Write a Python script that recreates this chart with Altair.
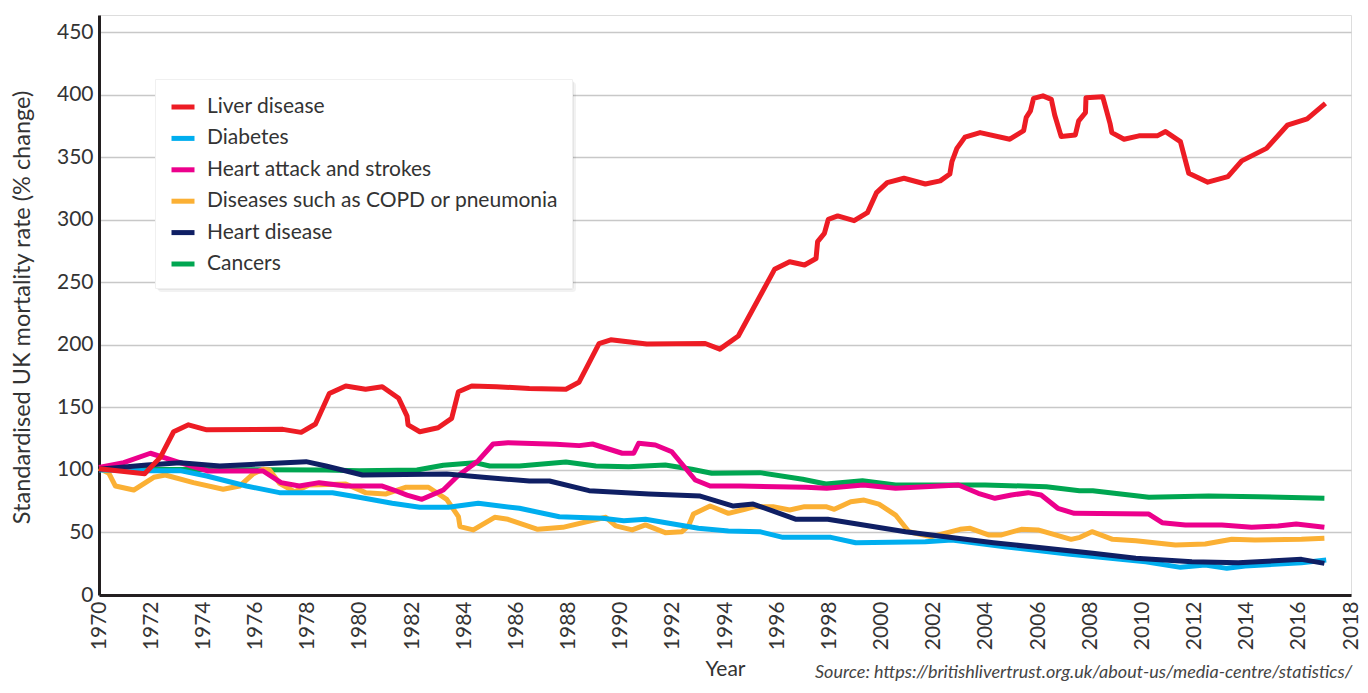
import altair as alt
import pandas as pd

# ---------------- data ----------------
liver_years = [1970, 1971.75, 1972.35, 1972.86, 1973.43, 1974.13, 1977.05, 1977.75, 1978.3, 1978.83,
               1979.46, 1980.22, 1980.86, 1981.49, 1981.81, 1981.85, 1982.3, 1983.0, 1983.52, 1983.78,
               1984.29, 1985.24, 1986.5, 1987.9, 1988.4, 1989.17, 1989.62, 1991.0, 1993.24, 1993.8,
               1994.51, 1995.9, 1996.48, 1997.05, 1997.49, 1997.55, 1997.81, 1997.96, 1998.32, 1998.95,
               1999.46, 1999.81, 2000.22, 2000.86, 2001.68, 2002.25, 2002.62, 2002.70, 2002.89, 2003.2,
               2003.78, 2004.92, 2005.45, 2005.55, 2005.71, 2005.83, 2006.19, 2006.51, 2006.64, 2006.89,
               2007.43, 2007.56, 2007.82, 2007.84, 2008.48, 2008.76, 2008.83, 2009.3, 2009.87, 2010.57,
               2010.89, 2011.46, 2011.78, 2012.51, 2013.28, 2013.81, 2014.76, 2015.56, 2016.32, 2017.02]
liver_values = [101, 97, 110, 130.5, 136, 132, 132.4, 130, 136.7, 161,
                167, 164.5, 166.5, 157.2, 143, 136, 130.5, 133.7, 141.2, 162.5,
                167, 166.5, 165, 164.4, 170, 201, 204, 200.6, 201, 196.5,
                207, 260.3, 266.4, 263.8, 269, 282.4, 289, 300.3, 303, 299.2,
                305.6, 321.6, 329.6, 333.1, 328.5, 331, 336.5, 346.4, 357, 366,
                369.6, 364.3, 371.2, 381.8, 387, 397, 399, 396.2, 383.7, 366.4,
                367.7, 379, 385.5, 397.5, 398.3, 377, 369.6, 364.3, 367, 367,
                370.4, 362.4, 337.1, 330, 334.4, 347, 357, 375.5, 380.5, 393]

diabetes_years = [1970, 1971.84, 1973.11, 1974.13, 1975.65, 1976.92, 1978.95, 1979.97, 1981.24, 1982.3,
                  1983.4, 1984.54, 1986.12, 1987.65, 1989.3, 1990.12, 1990.95, 1992.98, 1994.13, 1995.33,
                  1996.22, 1998.06, 1999.01, 2001.68, 2002.7, 2004.73, 2007.14, 2010.13, 2011.46, 2012.41,
                  2013.24, 2013.94, 2016.1, 2017.05]
diabetes_values = [100, 99.4, 99.4, 95.1, 87.1, 81.8, 81.8, 78.1, 73.3, 70.1,
                   70.1, 73.3, 69.3, 62.6, 61.3, 59.4, 60.5, 53.3, 51.2, 50.6,
                   46.1, 46.1, 41.8, 42.6, 44, 38.6, 32.8, 26.6, 22.1, 24,
                   21.3, 23.2, 25.8, 28]

stroke_years = [1970, 1970.95, 1971.97, 1972.98, 1974.19, 1976.29, 1976.98, 1977.68, 1978.44, 1979.46,
                1980.86, 1981.3, 1981.81, 1982.38, 1983.2, 1983.75, 1984.54, 1985.11, 1985.68, 1987.52,
                1988.41, 1988.92, 1990.06, 1990.5, 1990.69, 1991.33, 1991.96, 1992.86, 1993.43, 1994.57,
                1997.11, 1997.9, 1999.3, 2000.54, 2002.95, 2003.71, 2004.35, 2004.98, 2005.62, 2006.12,
                2006.76, 2007.39, 2010.25, 2010.76, 2011.65, 2013.05, 2014.19, 2015.2, 2015.9, 2016.98]
stroke_values = [102, 105.8, 113.3, 106.6, 99.1, 99.1, 89.8, 87.1, 89.8, 87.1,
                 87.1, 83.9, 79.9, 76.5, 83.9, 95.1, 107.4, 120.7, 121.7, 120.5,
                 119.4, 120.7, 113.3, 113.3, 121.3, 119.9, 114.5, 91.9, 87.1, 87.1,
                 86.1, 85.3, 87.9, 85.3, 87.9, 81.3, 77.3, 79.9, 81.8, 79.9,
                 69.3, 65.3, 64.7, 57.8, 56, 56, 54.1, 55.2, 56.8, 54.1]

copd_years = [1970, 1970.38, 1970.63, 1971.33, 1972.1, 1972.54, 1973.62, 1974.76, 1975.39, 1975.9,
              1976.29, 1976.54, 1976.92, 1977.49, 1978.06, 1979.46, 1980.22, 1980.98, 1981.75, 1982.63,
              1983.33, 1983.78, 1983.84, 1984.35, 1985.17, 1985.68, 1986.82, 1987.78, 1989.43, 1989.81,
              1990.44, 1990.95, 1991.71, 1992.35, 1992.6, 1992.79, 1993.43, 1994.13, 1994.76, 1995.14,
              1995.84, 1996.48, 1997.05, 1997.87, 1998.19, 1998.82, 1999.33, 1999.9, 2000.54, 2001.05,
              2001.93, 2003.01, 2003.4, 2004.1, 2004.6, 2005.36, 2006.0, 2007.27, 2007.61, 2008.07,
              2008.86, 2009.75, 2011.27, 2012.41, 2013.43, 2014.32, 2016.1, 2016.98]
copd_values = [101.3, 97.3, 87.1, 83.9, 94.1, 95.9, 89.8, 84.5, 87.1, 96.7,
               100.5, 99.9, 89.3, 82.6, 87.9, 88.7, 81.8, 80.7, 86.1, 86.1,
               76.5, 62.6, 54.6, 52, 62.1, 60.5, 52.5, 54.1, 62.1, 55.2,
               52, 56, 49.8, 50.6, 55.2, 64.7, 71.1, 65.3, 68.5, 70.6,
               70.6, 67.9, 70.6, 70.6, 68.5, 74.6, 75.9, 72.7, 63.9, 50.6,
               46.6, 52.5, 53.3, 48, 48, 52.5, 52, 44.5, 46.1, 50.6,
               44.5, 43.4, 40, 40.8, 44.5, 44, 44.5, 45.3]

heart_years = [1970, 1971.84, 1973.11, 1974.63, 1977.94, 1978.7, 1980.1, 1983.33, 1984.73, 1986.5,
               1987.27, 1988.79, 1991.08, 1993.05, 1994.32, 1995.08, 1996.73, 1997.94, 2000.92, 2004.29,
               2008.1, 2009.75, 2011.9, 2013.68, 2016.1, 2016.98]
heart_values = [100.5, 103.9, 105.8, 103.1, 106.6, 103.1, 95.9, 96.7, 94.1, 91.1,
                91.1, 83.4, 80.7, 79.1, 71.1, 72.7, 60.5, 60.5, 50.6, 41.8,
                33.3, 29.3, 26.6, 25.8, 28.5, 25.3]

cancer_years = [1970, 1978.7, 1979.97, 1982.19, 1983.2, 1984.41, 1984.98, 1986.12, 1987.9, 1989.05,
                1990.31, 1991.71, 1992.73, 1993.49, 1995.33, 1996.98, 1997.87, 1999.27, 2000.54, 2003.97,
                2006.32, 2007.59, 2008.1, 2010.25, 2012.54, 2014.44, 2016.98]
cancer_values = [100.5, 99.9, 99.4, 99.9, 103.7, 105.8, 103.1, 103.1, 106.3, 103.1,
                 102.6, 103.9, 100.5, 97.3, 97.8, 92.5, 88.7, 91.4, 87.9, 87.9,
                 86.6, 83.4, 83.4, 78.1, 79.1, 78.6, 77.3]

legend_order = ["Liver disease", "Diabetes", "Heart attack and strokes",
                "Diseases such as COPD or pneumonia", "Heart disease", "Cancers"]
colors = ["#ed1c24", "#00aeef", "#ec008c", "#fbb034", "#0f1f64", "#00a651"]
y_ticks = list(range(0, 451, 50))
x_ticks = list(range(1970, 2019, 2))
source_text = "Source: https://britishlivertrust.org.uk/about-us/media-centre/statistics/"

# drawing order (last drawn on top)
series = [
    ("Cancers", cancer_years, cancer_values),
    ("Diseases such as COPD or pneumonia", copd_years, copd_values),
    ("Diabetes", diabetes_years, diabetes_values),
    ("Heart attack and strokes", stroke_years, stroke_values),
    ("Heart disease", heart_years, heart_values),
    ("Liver disease", liver_years, liver_values),
]
rows = []
for i, (name, ys, vs) in enumerate(series):
    for k, (y, v) in enumerate(zip(ys, vs)):
        rows.append({"Series": name, "Year": y, "Value": v, "z": i, "k": k})
df = pd.DataFrame(rows)

W, H = 1252, 580
TICK_FONT = "Lato"

lines = alt.Chart(df).mark_line(strokeWidth=5, strokeJoin="round").encode(
    x=alt.X("Year:Q",
            scale=alt.Scale(domain=[1970, 2018], nice=False, zero=False),
            axis=alt.Axis(values=x_ticks, format="d", labelAngle=-90, ticks=False,
                          labelPadding=6, labelFont=TICK_FONT, labelFontSize=21,
                          labelColor="#333333", domainColor="#231f20", domainWidth=3,
                          grid=False, title="Year", titleFont="Lato", titleFontSize=21,
                          titleFontWeight="normal", titleColor="#333333", titlePadding=9,
                          labelOverlap=False)),
    y=alt.Y("Value:Q",
            scale=alt.Scale(domain=[0, 463.6], nice=False),
            axis=alt.Axis(values=y_ticks, ticks=False, labelPadding=6,
                          labelFont=TICK_FONT, labelFontSize=21, labelColor="#333333",
                          domainColor="#231f20", domainWidth=3,
                          grid=True, gridColor="#c8c8c8", gridWidth=1.5,
                          title="Standardised UK mortality rate (% change)",
                          titleFont="Lato", titleFontSize=23.5, titleFontWeight="normal",
                          titleColor="#333333", titleX=-77, titleY=H / 2 + 2,
                          titleAlign="center", titleBaseline="middle", titleAngle=270)),
    color=alt.Color("Series:N",
                    scale=alt.Scale(domain=legend_order, range=colors),
                    legend=alt.Legend(orient="none", legendX=56, legendY=64, title=None,
                                      symbolType="stroke", symbolStrokeWidth=5,
                                      symbolSize=529, labelFont="Lato", labelFontSize=21,
                                      labelColor="#333333", labelOffset=10, rowPadding=7.4,
                                      padding=14, fillColor="white", strokeColor="#f0f0f0",
                                      labelLimit=500)),
    detail="z:O",
    order="k:Q",
)

shadow_df = pd.DataFrame({"a": [1]})
shadow1 = alt.Chart(shadow_df).mark_rect(color="#000000", opacity=0.05, cornerRadius=3).encode(
    x=alt.value(59), x2=alt.value(477), y=alt.value(67), y2=alt.value(277))
shadow2 = alt.Chart(shadow_df).mark_rect(color="#000000", opacity=0.05, cornerRadius=3).encode(
    x=alt.value(57), x2=alt.value(475), y=alt.value(65), y2=alt.value(275))

source = alt.Chart(pd.DataFrame({"t": [source_text]})).mark_text(
    align="left", baseline="alphabetic", font="Lato", fontStyle="italic",
    fontSize=18, color="#444444").encode(
    x=alt.value(716), y=alt.value(663), text="t:N")

chart = alt.layer(shadow1, shadow2, lines, source).properties(
    width=W, height=H,
    autosize=alt.AutoSizeParams(type="none"),
    padding={"left": 91, "top": 7, "right": 9, "bottom": 90},
).configure_view(stroke=None).configure(background="white")

chart.save("out.html", embed_options={"renderer": "svg", "actions": False})
